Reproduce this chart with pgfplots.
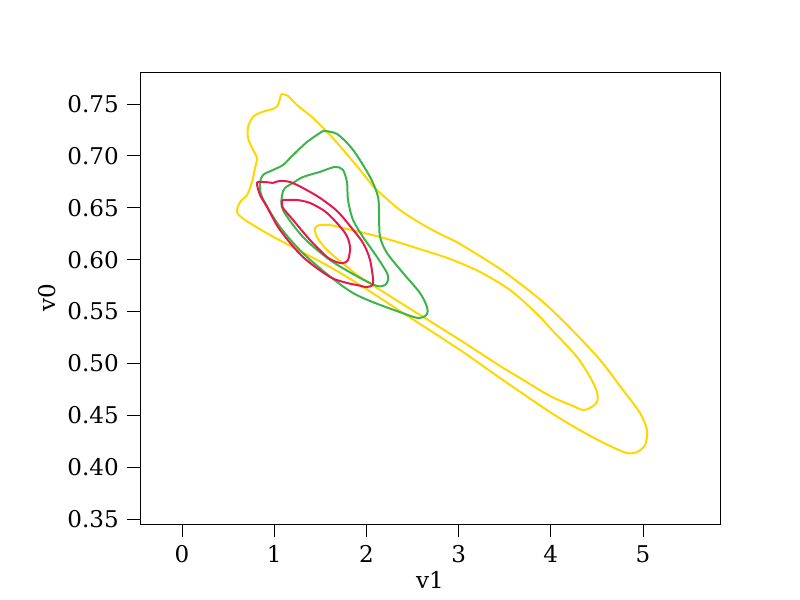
\documentclass[border=0pt]{standalone}
\usepackage{pgfplots}
\pgfplotsset{compat=1.18}
\usepackage{fontspec}
\setmainfont{DejaVu Serif}
\definecolor{cyel}{RGB}{255,215,0}
\definecolor{cgrn}{RGB}{60,180,75}
\definecolor{cred}{RGB}{230,25,75}
\begin{document}
\begin{tikzpicture}
\fontsize{17.3}{20}\selectfont
\begin{axis}[
  at={(0,0)}, anchor=south west,
  scale only axis, width=435pt, height=339pt,
  xmin=-0.456, xmax=5.835, ymin=0.3452, ymax=0.7808,
  xtick={0,1,2,3,4,5}, ytick={0.35,0.40,0.45,0.50,0.55,0.60,0.65,0.70,0.75},
  yticklabel style={/pgf/number format/.cd, fixed, fixed zerofill, precision=2},
  /pgf/number format/assume math mode=true,
  tick align=outside, xtick pos=left, ytick pos=left,
  major tick length=10pt,
  tick style={black, line width=0.6pt},
  axis line style={line width=0.6pt},
  ticklabel style={font=\fontsize{17.3}{20}\selectfont},
  label style={font=\fontsize{17.3}{20}\selectfont},
  xlabel={v1}, ylabel={v0},
  xlabel style={at={(axis description cs:0.5,-0.124)}, anchor=center},
  ylabel style={at={(axis description cs:-0.160,0.5)}, anchor=center},
  clip=false,
]
% yellow outer
\addplot[cyel, line width=1.5pt, smooth, tension=0.5] coordinates {
(1.074,0.7596) (1.041,0.7490) (0.987,0.7452) (0.868,0.7423) (0.770,0.7375)
(0.716,0.7278) (0.716,0.7172) (0.770,0.7057) (0.813,0.6980) (0.792,0.6883)
(0.759,0.6748) (0.705,0.6623) (0.629,0.6555) (0.597,0.6459) (0.683,0.6382)
(0.954,0.6237) (1.280,0.6083) (1.605,0.5929) (1.931,0.5755) (2.364,0.5505)
(3.015,0.5129) (3.449,0.4859) (3.991,0.4531) (4.349,0.4339)
(4.642,0.4204) (4.826,0.4136) (4.935,0.4146) (5.022,0.4213) (5.043,0.4358)
(4.967,0.4522) (4.783,0.4743) (4.534,0.5033) (4.230,0.5322) (3.915,0.5592)
(3.482,0.5890) (3.015,0.6151) (2.798,0.6247) (2.581,0.6353) (2.364,0.6478)
(2.148,0.6642) (2.061,0.6719) (1.931,0.6864) (1.768,0.7037) (1.605,0.7201)
(1.421,0.7365) (1.247,0.7490) (1.150,0.7577) (1.074,0.7596)};
% yellow inner
\addplot[cyel, line width=1.5pt, smooth, tension=0.5] coordinates {
(1.605,0.6334) (2.148,0.6218) (2.505,0.6122) (2.907,0.6006) (3.232,0.5881)
(3.557,0.5707) (3.829,0.5495) (4.013,0.5322) (4.284,0.5061) (4.425,0.4869)
(4.501,0.4724) (4.501,0.4628) (4.425,0.4570) (4.349,0.4551) (4.241,0.4589)
(3.991,0.4686) (3.666,0.4859) (3.449,0.4975) (3.015,0.5225) (2.288,0.5630)
(1.931,0.5833) (1.790,0.5929) (1.573,0.6093) (1.464,0.6218) (1.443,0.6305)
(1.497,0.6334) (1.605,0.6334)};
% green outer
\addplot[cgrn, line width=1.5pt, smooth, tension=0.5] coordinates {
(1.529,0.7240) (1.356,0.7134) (1.204,0.7008) (1.095,0.6912) (0.987,0.6864)
(0.879,0.6816) (0.846,0.6739) (0.868,0.6604) (1.063,0.6314) (1.356,0.6025)
(1.855,0.5678) (2.419,0.5476) (2.581,0.5437) (2.657,0.5476) (2.657,0.5543)
(2.581,0.5678) (2.397,0.5871) (2.223,0.6064) (2.148,0.6218) (2.137,0.6411)
(2.126,0.6604) (2.039,0.6796) (1.855,0.7057) (1.681,0.7211) (1.529,0.7240)};
% green inner
\addplot[cgrn, line width=1.5pt, smooth, tension=0.5] coordinates {
(1.497,0.6845) (1.312,0.6796) (1.204,0.6739) (1.117,0.6690) (1.085,0.6623)
(1.095,0.6478) (1.312,0.6218) (1.605,0.5996) (1.931,0.5823) (2.115,0.5746)
(2.202,0.5755) (2.234,0.5804) (2.223,0.5871) (2.115,0.6025) (1.963,0.6218)
(1.855,0.6382) (1.800,0.6575) (1.790,0.6739) (1.746,0.6864) (1.659,0.6893)
(1.497,0.6845)};
% red outer
\addplot[cred, line width=1.5pt, smooth, tension=0.5] coordinates {
(0.987,0.6739) (1.063,0.6758) (1.171,0.6748) (1.312,0.6690) (1.497,0.6594)
(1.681,0.6469) (1.822,0.6324) (1.963,0.6160) (2.039,0.5996) (2.072,0.5775)
(2.006,0.5736) (1.898,0.5755) (1.790,0.5775) (1.605,0.5833) (1.312,0.6025)
(1.063,0.6285) (0.922,0.6507) (0.846,0.6623) (0.813,0.6739) (0.879,0.6748)
(0.987,0.6739)};
% red inner
\addplot[cred, line width=1.5pt, smooth, tension=0.5] coordinates {
(1.247,0.6575) (1.388,0.6546) (1.573,0.6449) (1.768,0.6257) (1.822,0.6122)
(1.800,0.5996) (1.746,0.5967) (1.680,0.5975) (1.573,0.6025) (1.388,0.6189)
(1.204,0.6382) (1.095,0.6498) (1.085,0.6546) (1.095,0.6575) (1.247,0.6575)};
\end{axis}
\pgfresetboundingbox
\path (-105pt,-57pt) rectangle (495pt,393pt);
\end{tikzpicture}
\end{document}
